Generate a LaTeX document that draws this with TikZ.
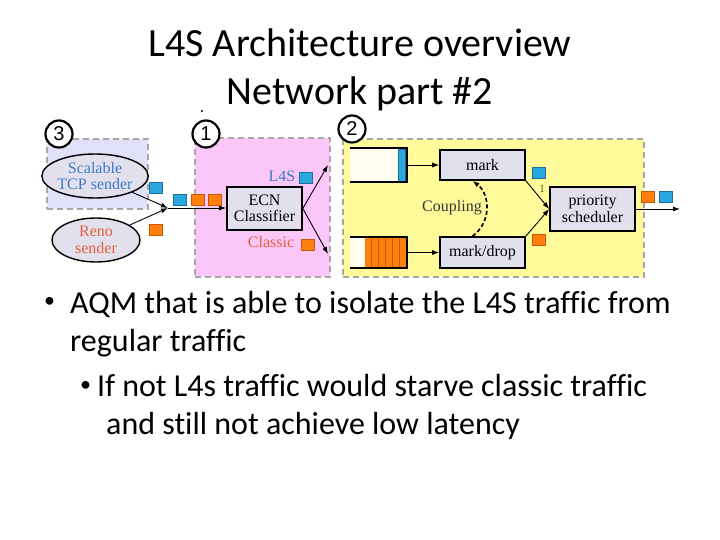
\documentclass[tikz,border=0pt]{standalone}
\usepackage{fontspec}
\setmainfont{Carlito}[Ligatures=NoCommon]
\newfontfamily\dfont{Liberation Serif}
\newfontfamily\nfont{Liberation Sans}
\usetikzlibrary{arrows.meta,shapes.geometric}
\definecolor{dashgray}{HTML}{A6A6A6}
\definecolor{yellowfill}{HTML}{FFFB9A}
\definecolor{pinkfill}{HTML}{FBC6F8}
\definecolor{lavfill}{HTML}{E0E0F8}
\definecolor{nodefill}{HTML}{E3E0EE}
\definecolor{pblue}{HTML}{29A8E0}
\definecolor{pbluedark}{HTML}{1E6E9E}
\definecolor{porange}{HTML}{FF7F0E}
\definecolor{porangedark}{HTML}{C85A00}
\definecolor{textblue}{HTML}{3B7DC4}
\definecolor{textorange}{HTML}{E5603A}
\definecolor{olive}{HTML}{5A5A10}
\definecolor{qwhite}{HTML}{FFFFF2}
\begin{document}
\begin{tikzpicture}[x=1pt,y=-1pt,
  grp/.style={draw=dashgray, line width=2.6pt, dash pattern=on 6pt off 4pt, inner sep=0},
  dtext/.style={font=\dfont\fontsize{16}{16.5}\selectfont},
  proc/.style={dtext, draw, line width=1.6pt, fill=nodefill, align=center, inner sep=0},
  sender/.style={dtext, ellipse, draw, line width=1.4pt, fill=nodefill, align=center, inner sep=0},
  pkt/.style={minimum width=13pt, minimum height=11pt, inner sep=0, line width=0.7pt},
  bpkt/.style={pkt, fill=pblue, draw=pbluedark},
  opkt/.style={pkt, fill=porange, draw=porangedark},
  num/.style={circle, draw, line width=2.2pt, fill=white, minimum size=27pt, inner sep=0, font=\nfont\fontsize{20}{20}\selectfont},
  arr/.style={-{Latex[length=7pt,width=5pt]}, line width=0.9pt},
  qline/.style={line width=1.6pt},
  lbl/.style={dtext, inner sep=0},
  body/.style={anchor=base west, inner sep=0, font=\fontsize{32}{32}\selectfont},
  bul/.style={inner sep=0, font=\fontsize{22}{22}\selectfont}
]
\useasboundingbox (0,0) rectangle (720,540);

% title
\node[anchor=base, inner sep=0, font=\fontsize{40}{40}\selectfont] (t1) at (360,57) {L4S Architecture overview};
\node[anchor=base, inner sep=0, font=\fontsize{40}{40}\selectfont] (t2) at (360,105) {Network part \#2};

% group boxes
\node[grp, fill=lavfill, minimum width=101pt, minimum height=70pt] (g3) at (97.5,174) {};
\node[grp, fill=pinkfill, minimum width=135pt, minimum height=139pt] (g1) at (262.5,207.5) {};
\node[grp, fill=yellowfill, minimum width=301pt, minimum height=138pt] (g2) at (493.5,208) {};

\fill (202,111) circle (1.2pt);

% circles
\node[num] (n3) at (59,134) {3};
\node[num] (n1) at (206,134) {1};
\node[num] (n2) at (352,129) {2};

% senders
\node[sender, minimum width=86pt, minimum height=44pt, text=textblue] (s1) at (95,176) {Scalable\\TCP sender};
\node[sender, minimum width=88pt, minimum height=44pt, text=textorange] (s2) at (96,240) {Reno\\sender};
\coordinate (j) at (168,208);
\draw[arr] (s1) -- (j);
\draw[arr] (s2) -- (j);
\node[bpkt] (p1) at (155.5,188) {};
\node[opkt] (p2) at (155.5,229.5) {};

% ECN classifier
\node[proc, minimum width=75pt, minimum height=43pt] (ecn) at (264.5,208.5) {ECN\\Classifier};
\draw[arr] (j) -- (j -| ecn.west);
\node[bpkt] (p3) at (180,200) {};
\node[opkt] (p4) at (197.5,200) {};
\node[opkt] (p5) at (214.5,200) {};
\coordinate (l4s) at (328,165);
\coordinate (cls) at (328,254);
\draw[arr] (ecn.east) -- (l4s);
\draw[arr] (ecn.east) -- (cls);
\node[lbl, text=textblue] (ll) at (282,176) {L4S};
\node[bpkt] (p6) at (305.5,177.5) {};
\node[lbl, text=textorange] (lc) at (271,242) {Classic};
\node[opkt] (p7) at (307.5,245) {};

% queues
\node[minimum width=57pt, minimum height=34pt, inner sep=0] (q1) at (378.5,165) {};
\node[minimum width=57pt, minimum height=31pt, inner sep=0] (q2) at (378.5,252.5) {};
\fill[qwhite] (q1.north west) rectangle (q1.south east);
\fill[qwhite] (q2.north west) rectangle (q2.south east);
\draw[fill=pblue, draw=pbluedark, line width=0.6pt] (398.5,149) rectangle (405.5,181);
\fill[porange] (365,238) rectangle (406,267);
\foreach \xx in {371.8,378.6,385.4,392.2,399} \draw[porangedark, line width=0.8pt] (\xx,238) -- (\xx,267);
\draw[qline] (q1.north west) -- (q1.north east) -- (q1.south east) -- (q1.south west);
\draw[qline] (q2.north west) -- (q2.north east) -- (q2.south east) -- (q2.south west);

% AQM boxes
\node[proc, minimum width=85pt, minimum height=30pt] (mark) at (482.5,165) {mark};
\node[proc, minimum width=85pt, minimum height=31pt] (md) at (482.5,252.5) {mark/drop};
\draw[arr] (q1.east) -- (mark.west);
\draw[arr] (q2.east) -- (md.west);
\draw[line width=1.6pt, dash pattern=on 4pt off 2.5pt, -{Latex[length=7pt,width=5pt]}] ([xshift=-10pt]md.north) .. controls (492,222) and (490,194) .. ([xshift=-10pt]mark.south);
\node[lbl, text=black!80] (cp) at (452,208) {Coupling};

% scheduler
\node[proc, minimum width=85pt, minimum height=44pt] (sch) at (592.5,209) {priority\\scheduler};
\draw[arr] (mark.south east) -- (sch.west);
\draw[arr] (md.north east) -- (sch.west);
\node[inner sep=0, text=olive, font=\dfont\fontsize{11}{11}\selectfont] (one) at (542,189) {1};
\node[bpkt] (p8) at (538.5,173) {};
\node[opkt] (p9) at (538.5,240) {};
\coordinate (out) at (680,209);
\draw[arr] (sch.east) -- (out);
\node[opkt] (p10) at (648,197) {};
\node[bpkt] (p11) at (666,197) {};

% bullets
\node[bul] (b1) at (49.5,302) {•};
\node[body] (l1) at (70,313) {AQM that is able to isolate the L4S traffic from};
\node[body] (l2) at (70,351) {regular traffic};
\node[bul] (b2) at (85.5,386) {•};
\node[body] (l3) at (97,396) {If not L4s traffic would starve classic traffic};
\node[body] (l4) at (106,434) {and still not achieve low latency};
\end{tikzpicture}
\end{document}
